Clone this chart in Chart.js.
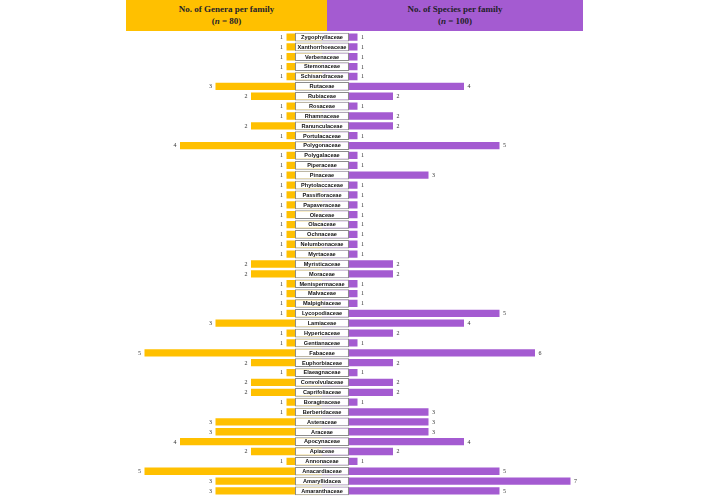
<!DOCTYPE html>
<html lang="en">
<head>
    <meta charset="UTF-8">
    <title>Genera and Species per Family</title>
    <script src="https://cdn.jsdelivr.net/npm/chart.js"></script>
    <style>
        body { margin: 0; background: #fff; }
        #wrap { position: relative; width: 706px; height: 497px; }
        .head {
            position: absolute; top: 0; height: 31px;
            font-family: 'Liberation Serif', 'Times New Roman', serif;
            font-weight: bold; font-size: 9px; line-height: 11.5px;
            color: #1f1f2a; text-align: center;
            display: flex; flex-direction: column; justify-content: center;
        }
        #headGenera { left: 126px; width: 201px; background: #FFC000; }
        #headSpecies { left: 327px; width: 256px; background: #A45BD1; }
    </style>
</head>
<body>
    <div id="wrap">
        <canvas id="butterfly" width="706" height="497"></canvas>
        <div class="head" id="headGenera"><div>No. of Genera per family</div><div>(<i>n</i> = 80)</div></div>
        <div class="head" id="headSpecies"><div>No. of Species per family</div><div>(<i>n</i> = 100)</div></div>
    </div>

    <script>
        // Data
        const families = [
            'Zygophyllaceae', 'Xanthorrhoeaceae', 'Verbenaceae', 'Stemonaceae', 'Schisandraceae',
            'Rutaceae', 'Rubiaceae', 'Rosaceae', 'Rhamnaceae', 'Ranunculaceae', 'Portulacaceae',
            'Polygonaceae', 'Polygalaceae', 'Piperaceae', 'Pinaceae', 'Phytolaccaceae',
            'Passifloraceae', 'Papaveraceae', 'Oleaceae', 'Olacaceae', 'Ochnaceae',
            'Nelumbonaceae', 'Myrtaceae', 'Myristicaceae', 'Moraceae', 'Menispermaceae',
            'Malvaceae', 'Malpighiaceae', 'Lycopodiaceae', 'Lamiaceae', 'Hypericaceae',
            'Gentianaceae', 'Fabaceae', 'Euphorbiaceae', 'Elaeagnaceae', 'Convolvulaceae',
            'Caprifoliaceae', 'Boraginaceae', 'Berberidaceae', 'Asteraceae', 'Araceae',
            'Apocynaceae', 'Apiaceae', 'Annonaceae', 'Anacardiaceae', 'Amaryllidacea',
            'Amaranthaceae'
        ];
        const genera = [
            1, 1, 1, 1, 1, 3, 2, 1, 1, 2, 1, 4, 1, 1, 1, 1, 1, 1, 1, 1, 1, 1, 1, 2,
            2, 1, 1, 1, 1, 3, 1, 1, 5, 2, 1, 2, 2, 1, 1, 3, 3, 4, 2, 1, 5, 3, 3
        ];
        const species = [
            1, 1, 1, 1, 1, 4, 2, 1, 2, 2, 1, 5, 1, 1, 3, 1, 1, 1, 1, 1, 1, 1, 1, 2,
            2, 1, 1, 1, 5, 4, 2, 1, 6, 2, 1, 2, 2, 1, 3, 3, 3, 4, 2, 1, 5, 7, 5
        ];

        const BOX_HALF = 0.76; // half width of the centre name box, in axis units

        // Draw family names and value labels on top of the bars
        const labelPlugin = {
            id: 'labels',
            afterDatasetsDraw(chart) {
                const ctx = chart.ctx;
                const boxes = chart.getDatasetMeta(0).data;
                const left = chart.getDatasetMeta(1).data;
                const right = chart.getDatasetMeta(2).data;
                const x0 = chart.scales.x.getPixelForValue(0);
                ctx.save();
                ctx.textBaseline = 'middle';

                ctx.font = 'bold 5.6px "Liberation Sans", Arial, sans-serif';
                ctx.fillStyle = '#111';
                ctx.textAlign = 'center';
                boxes.forEach((b, i) => ctx.fillText(families[i], x0, b.y + 0.3));

                ctx.font = '6px "Liberation Serif", "Times New Roman", serif';
                ctx.fillStyle = '#333';
                ctx.textAlign = 'right';
                left.forEach((b, i) => ctx.fillText(genera[i], b.x - 3.5, b.y + 0.3));
                ctx.textAlign = 'left';
                right.forEach((b, i) => ctx.fillText(species[i], b.x + 3.5, b.y + 0.3));
                ctx.restore();
            }
        };

        new Chart(document.getElementById('butterfly'), {
            type: 'bar',
            data: {
                labels: families,
                datasets: [
                    {
                        label: 'Family',
                        data: families.map(() => [-BOX_HALF, BOX_HALF]),
                        backgroundColor: '#ffffff',
                        borderColor: '#8c8c8c',
                        borderWidth: 1,
                        borderSkipped: false,
                        barPercentage: 0.88
                    },
                    {
                        label: 'Genera',
                        data: genera.map(v => -v),
                        backgroundColor: '#FFC000',
                        barPercentage: 0.74
                    },
                    {
                        label: 'Species',
                        data: species,
                        backgroundColor: '#A45BD1',
                        barPercentage: 0.74
                    }
                ]
            },
            options: {
                indexAxis: 'y',
                responsive: false,
                animation: false,
                layout: { padding: { left: 137.4, right: 128.4, top: 32.1, bottom: 1.1 } },
                datasets: { bar: { grouped: false, categoryPercentage: 1 } },
                plugins: { legend: { display: false }, tooltip: { enabled: false } },
                scales: {
                    x: { min: -5.2, max: 7.2, display: false },
                    y: { display: false, offset: true }
                }
            },
            plugins: [labelPlugin]
        });
    </script>
</body>
</html>
